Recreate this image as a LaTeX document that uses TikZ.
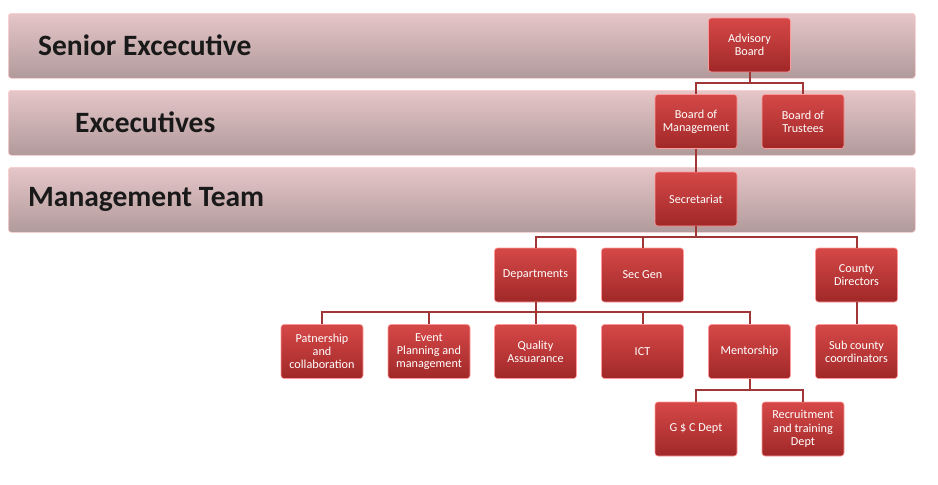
\documentclass[tikz,border=0pt]{standalone}
\usepackage{fontspec}
\setmainfont{Carlito}
\usepackage{tikz}
\usetikzlibrary{arrows.meta,positioning,calc}

\definecolor{bandtop}{HTML}{E6C6C8}
\definecolor{bandbot}{HTML}{B19A9B}
\definecolor{boxtop}{HTML}{D64848}
\definecolor{boxbot}{HTML}{A02828}
\definecolor{linkred}{HTML}{A03636}

\begin{document}
\begin{tikzpicture}[
                x=1pt, y=-1pt,
                font=\fontsize{12.2}{13.3}\selectfont,
                band/.style={rectangle, draw=white!80!red, line width=0.6pt, rounded corners=3pt, top color=bandtop, bottom color=bandbot, minimum width=907pt, minimum height=65pt, anchor=north west, inner sep=0pt},
                bandtext/.style={font=\fontsize{29.5}{31}\selectfont\bfseries, text=black!90, anchor=west, inner sep=0pt},
                orgbox/.style={rectangle, draw=red!40!white, line width=0.6pt, rounded corners=3pt, top color=boxtop, bottom color=boxbot, minimum width=82pt, minimum height=54pt, align=center, text=white, inner sep=2pt},
                conn/.style={draw=linkred, line width=2pt},
            ]
            \useasboundingbox (0,0) rectangle (938,485);

            % level bands
            \node[band] (bandsen) at (8,13) {};
            \node[band] (bandexe) at (8,90) {};
            \node[band] (bandman) at (8,167) {};
            \node[bandtext] (tsen) at (38,45) {Senior Excecutive};
            \node[bandtext] (texe) at (75,122) {Excecutives};
            \node[bandtext] (tman) at (28,199) {Management Team};

            % org chart
            \node[orgbox] (adv) at (749.5,45) {Advisory\\Board};
            \node[orgbox] (bom) at (696,121.5) {Board of\\Management};
            \node[orgbox] (bot) at (803,121.5) {Board of\\Trustees};
            \node[orgbox] (sec) at (696,199) {Secretariat};
            \node[orgbox] (dep) at (535.5,275) {Departments};
            \node[orgbox] (sgen) at (642.5,275) {Sec Gen};
            \node[orgbox] (cdir) at (856.5,275) {County\\Directors};
            \node[orgbox] (pat) at (322,351.5) {Patnership\\and\\collaboration};
            \node[orgbox] (evt) at (429,351.5) {Event\\Planning and\\management};
            \node[orgbox] (qa) at (535.5,351.5) {Quality\\Assuarance};
            \node[orgbox] (ict) at (642.5,351.5) {ICT};
            \node[orgbox] (men) at (749.5,351.5) {Mentorship};
            \node[orgbox] (scc) at (856.5,351.5) {Sub county\\coordinators};
            \node[orgbox] (gsc) at (696,429) {G \$ C Dept};
            \node[orgbox] (rtd) at (803,429) {Recruitment\\and training\\Dept};

            \draw[conn] (adv.south) -- ++(0,11) -| (bom.north);
            \draw[conn] (adv.south) -- ++(0,11) -| (bot.north);
            \draw[conn] (bom) -- (sec);
            \draw[conn] (sec.south) -- ++(0,11) -| (dep.north);
            \draw[conn] (sec.south) -- ++(0,11) -| (sgen.north);
            \draw[conn] (sec.south) -- ++(0,11) -| (cdir.north);
            \draw[conn] (dep.south) -- ++(0,10) -| (pat.north);
            \draw[conn] (dep.south) -- ++(0,10) -| (evt.north);
            \draw[conn] (dep) -- (qa);
            \draw[conn] (dep.south) -- ++(0,10) -| (ict.north);
            \draw[conn] (dep.south) -- ++(0,10) -| (men.north);
            \draw[conn] (cdir) -- (scc);
            \draw[conn] (men.south) -- ++(0,11) -| (gsc.north);
            \draw[conn] (men.south) -- ++(0,11) -| (rtd.north);
        \end{tikzpicture}
\end{document}
